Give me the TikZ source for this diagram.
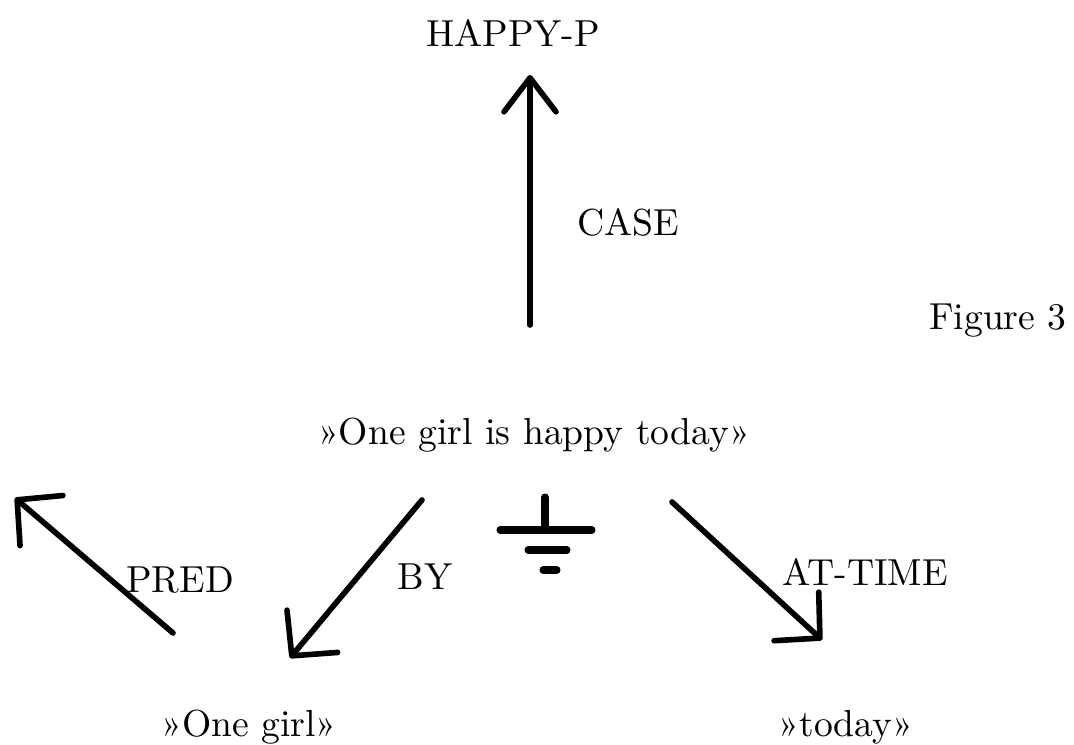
\documentclass[tikz,border=0pt]{standalone}
\usetikzlibrary{arrows.meta}

\tikzset{
  word/.style={font=\fontsize{10.7}{13}\selectfont, inner sep=0pt},
  rel/.style={line width=1.6pt, line cap=round,
    -{Straight Barb[length=3.2mm, width=6.6mm, round]}},
  earth/.style={line width=2pt, line cap=round}
}

\begin{document}
\begin{tikzpicture}

    \useasboundingbox (0,0) rectangle (10.74,7.45);

    % --- Concepts ---
    \node[word] (happy) at (5.13, 7.12) {HAPPY-P};
    \node[word, anchor=base] (sent) at (5.34, 3.00) {»One girl is happy today»};
    \node[word, anchor=base] (girl) at (2.49, 0.08) {»One girl»};
    \node[word, anchor=base] (today) at (8.46, 0.08) {»today»};
    \node[word, anchor=base] (fig) at (9.98, 4.15) {Figure 3};

    % --- Relation labels ---
    \node[word] (case) at (6.28, 5.23) {CASE};
    \node[word] (pred) at (1.80, 1.65) {PRED};
    \node[word] (by) at (4.25, 1.68) {BY};
    \node[word] (attime) at (8.65, 1.73) {AT-TIME};

    % --- Arrow ends ---
    \coordinate (caseS) at (5.30, 4.20);
    \coordinate (caseT) at (5.30, 6.70);
    \coordinate (predS) at (1.73, 1.12);
    \coordinate (predT) at (0.15, 2.47);
    \coordinate (byS) at (4.22, 2.45);
    \coordinate (byT) at (2.90, 0.87);
    \coordinate (timeS) at (6.72, 2.43);
    \coordinate (timeT) at (8.22, 1.05);

    % --- Arrows ---
    \draw[rel, -{Straight Barb[length=3.4mm, width=5.2mm, round]}] (caseS) -- (caseT);
    \draw[rel] (predS) -- (predT);
    \draw[rel] (byS) -- (byT);
    \draw[rel] (timeS) -- (timeT);

    % --- Ground sign ---
    \coordinate (gnd) at (5.45, 2.48);
    \draw[earth] (gnd) -- ++(0, -0.33);
    \draw[earth] (5.00, 2.15) -- (5.92, 2.15);
    \draw[earth] (5.28, 1.95) -- (5.67, 1.95);
    \draw[earth] (5.43, 1.75) -- (5.57, 1.75);

\end{tikzpicture}
\end{document}
